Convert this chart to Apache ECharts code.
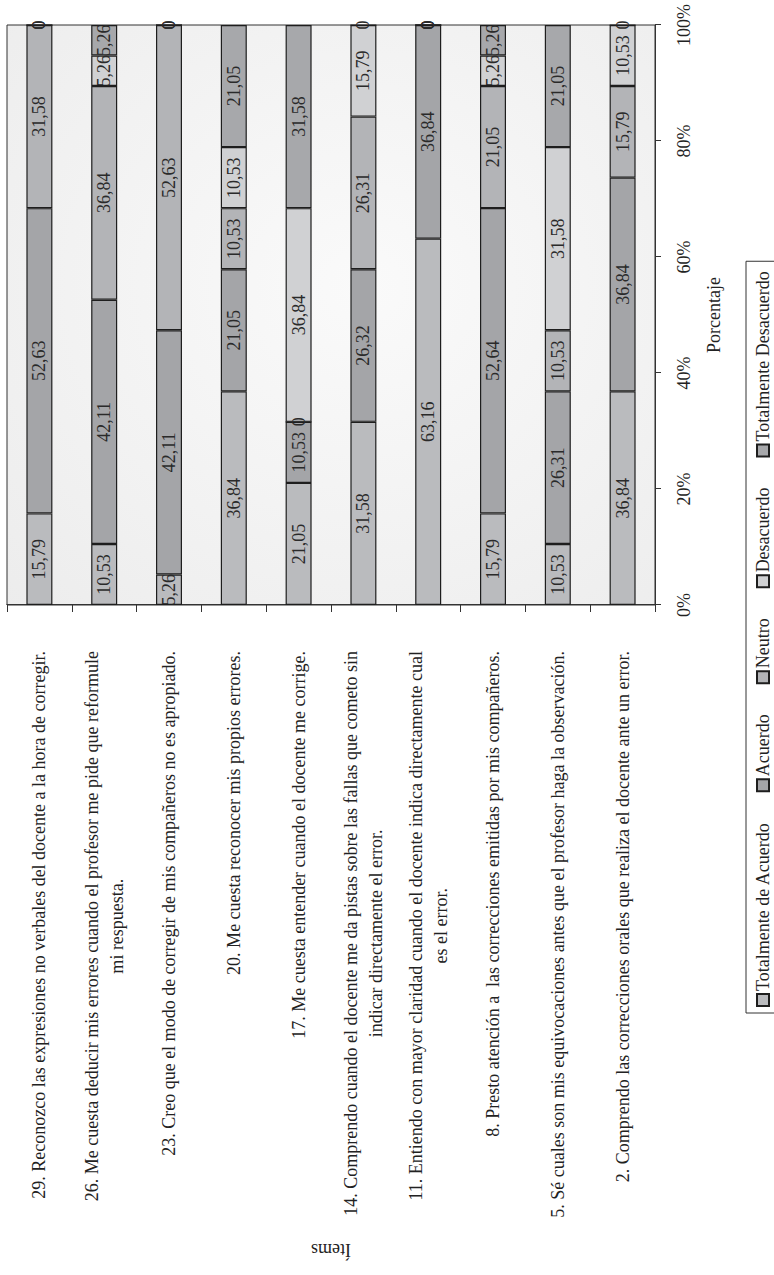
<!DOCTYPE html>
<html lang="es">
<head>
<meta charset="utf-8">
<title>Ítems por porcentaje de respuesta</title>
<script src="https://cdn.jsdelivr.net/npm/echarts@6/dist/echarts.min.js"></script>
<style>
  html, body { margin: 0; padding: 0; background: #ffffff; }
  body { width: 774px; height: 1275px; overflow: hidden; position: relative; }
  /* The chart is laid out as a horizontal bar chart and turned a quarter turn
     counter-clockwise so that the percentage axis runs up the page. */
  #chart {
    position: absolute; left: 0; top: 0;
    width: 1275px; height: 774px;
    transform-origin: 0 0;
    transform: translate(0, 1275px) rotate(-90deg);
  }
</style>
</head>
<body>
<div id="chart"></div>
<script>
// Survey items, listed from the first bar to the last one
const categories = [
  '29. Reconozco las expresiones no verbales del docente a la hora de corregir.',
  '26. Me cuesta deducir mis errores cuando el profesor me pide que reformule\nmi respuesta.',
  '23. Creo que el modo de corregir de mis compañeros no es apropiado.',
  '20. Me cuesta reconocer mis propios errores.',
  '17. Me cuesta entender cuando el docente me corrige.',
  '14. Comprendo cuando el docente me da pistas sobre las fallas que cometo sin\nindicar directamente el error.',
  '11. Entiendo con mayor claridad cuando el docente indica directamente cual\nes el error.',
  '8. Presto atención a  las correcciones emitidas por mis compañeros.',
  '5. Sé cuales son mis equivocaciones antes que el profesor haga la observación.',
  '2. Comprendo las correcciones orales que realiza el docente ante un error.'
];

// Response shares (%) per item
const totalmenteDeAcuerdo  = [15.79, 10.53,  5.26, 36.84, 21.05, 31.58, 63.16, 15.79, 10.53, 36.84];
const deAcuerdo            = [52.63, 42.11, 42.11, 21.05, 10.53, 26.32, 36.84, 52.64, 26.31, 36.84];
const neutro               = [31.58, 36.84, 52.63, 10.53,  0,    26.31,  0,    21.05, 10.53, 15.79];
const desacuerdo           = [ 0,     5.26,  0,    10.53, 36.84, 15.79,  0,     5.26, 31.58, 10.53];
const totalmenteDesacuerdo = [ 0,     5.26,  0,    21.05, 31.58,  0,     0,     5.26, 21.05,  0];

const seriesNames = ['Totalmente de Acuerdo', 'Acuerdo', 'Neutro', 'Desacuerdo', 'Totalmente Desacuerdo'];
const seriesData  = [totalmenteDeAcuerdo, deAcuerdo, neutro, desacuerdo, totalmenteDesacuerdo];
const seriesColors = ['#babbbe', '#a4a5a8', '#b3b4b7', '#d0d1d3', '#a7a8ab'];

const tickValues = [0, 20, 40, 60, 80, 100];

const FONT = "'Liberation Serif', 'Times New Roman', serif";
const INK = '#222222';

const chart = echarts.init(document.getElementById('chart'), null, { renderer: 'svg' });

const fmtValue = v => (v === 0 ? '0' : v.toFixed(2).replace('.', ','));

chart.setOption({
  animation: false,
  backgroundColor: '#ffffff',
  textStyle: { fontFamily: FONT, color: INK },
  grid: {
    left: 670, right: 25, top: 7, bottom: 119,
    show: true,
    borderColor: '#333333',
    borderWidth: 1,
    backgroundColor: {
      type: 'radial', x: 0.55, y: 0.55, r: 0.8,
      colorStops: [
        { offset: 0, color: '#fafafa' },
        { offset: 1, color: '#ececec' }
      ]
    }
  },
  legend: {
    data: seriesNames.map(name => ({ name, icon: 'rect' })),
    left: 262,
    top: 746,
    orient: 'horizontal',
    itemWidth: 12,
    itemHeight: 12,
    itemGap: 30,
    padding: [8, 10, 8, 6],
    borderColor: '#333333',
    borderWidth: 1,
    textStyle: { fontFamily: FONT, fontSize: 18, color: INK, padding: [0, 0, 0, -2] }
  },
  xAxis: {
    type: 'value',
    min: tickValues[0],
    max: tickValues[tickValues.length - 1],
    interval: 20,
    name: 'Porcentaje',
    nameLocation: 'middle',
    nameGap: 50,
    nameTextStyle: { fontFamily: FONT, fontSize: 18, color: INK },
    axisLine: { show: true, lineStyle: { color: '#333333', width: 1 } },
    axisTick: { show: true, length: 6, lineStyle: { color: '#333333' } },
    axisLabel: {
      margin: 20,
      fontFamily: FONT, fontSize: 18, color: INK,
      formatter: v => v + '%'
    },
    splitLine: { show: false }
  },
  yAxis: {
    type: 'category',
    inverse: true,
    data: categories,
    name: 'Ítems',
    nameLocation: 'middle',
    nameGap: 636,
    nameTextStyle: { fontFamily: FONT, fontSize: 18, color: INK },
    axisLine: { show: true, lineStyle: { color: '#333333', width: 1 } },
    axisTick: { show: true, length: 7, lineStyle: { color: '#333333' } },
    axisLabel: {
      margin: 46,
      fontFamily: FONT, fontSize: 18, color: INK,
      lineHeight: 25,
      formatter: v => v.split('\n').map(line => '{c|' + line + '}').join('\n'),
      rich: {
        c: { align: 'center', fontFamily: FONT, fontSize: 18, color: INK, lineHeight: 25 }
      }
    }
  },
  series: seriesNames.map((name, i) => ({
    name,
    type: 'bar',
    stack: 'total',
    barWidth: 26,
    data: seriesData[i],
    itemStyle: { color: seriesColors[i], borderColor: '#1e1e1e', borderWidth: 1.2 },
    label: {
      show: true,
      position: 'inside',
      fontFamily: FONT,
      fontSize: 18,
      color: '#2a2a2a',
      formatter: p => fmtValue(p.value)
    },
    emphasis: { disabled: true }
  }))
});
</script>
</body>
</html>
